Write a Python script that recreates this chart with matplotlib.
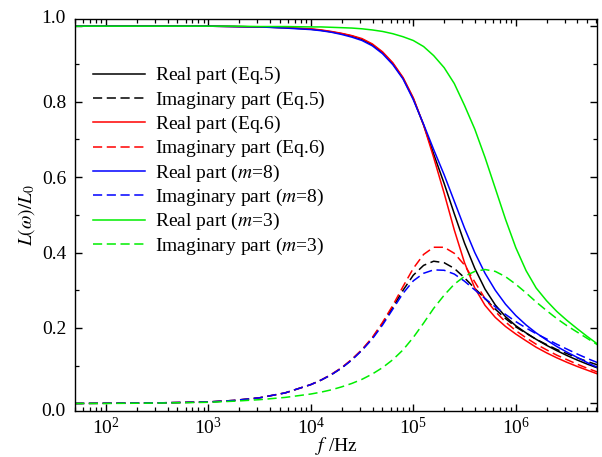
import matplotlib
matplotlib.use("Agg")
import matplotlib.pyplot as plt
import matplotlib.ticker as mticker
import numpy as np

plt.rcParams['font.family'] = ['Liberation Serif', 'DejaVu Serif']
plt.rcParams['mathtext.fontset'] = 'stix'

# Frequencies (Hz)
freq_hz = [5.01e1, 1.0e2, 3.16e2, 1.0e3, 1.78e3, 3.16e3, 5.62e3,
           1.0e4, 1.26e4, 1.58e4, 2.0e4, 2.51e4, 3.16e4, 3.98e4, 5.01e4, 6.31e4, 7.94e4,
           1.0e5, 1.26e5, 1.58e5, 2.0e5, 2.51e5, 3.16e5, 3.98e5, 5.01e5, 6.31e5, 7.94e5,
           1.0e6, 1.26e6, 1.58e6, 2.0e6, 2.51e6, 3.16e6, 3.98e6, 5.01e6, 6.31e6]

real_eq5 = [1.0, 1.0, 1.0, 1.0, 0.999, 0.998, 0.996,
            0.992, 0.989, 0.985, 0.980, 0.974, 0.965, 0.951, 0.930, 0.901, 0.862,
            0.808, 0.738, 0.661, 0.583, 0.503, 0.425, 0.358, 0.303, 0.261, 0.230,
            0.206, 0.187, 0.170, 0.154, 0.140, 0.127, 0.115, 0.104, 0.094]
imag_eq5 = [0.0, 0.0005, 0.0015, 0.004, 0.008, 0.015, 0.028,
            0.050, 0.062, 0.076, 0.094, 0.116, 0.142, 0.173, 0.212, 0.255, 0.300,
            0.340, 0.366, 0.377, 0.373, 0.358, 0.333, 0.305, 0.278, 0.250, 0.225,
            0.203, 0.186, 0.170, 0.156, 0.143, 0.132, 0.121, 0.111, 0.102]
real_eq6 = [1.0, 1.0, 1.0, 1.0, 0.999, 0.998, 0.996,
            0.993, 0.990, 0.986, 0.981, 0.975, 0.967, 0.953, 0.932, 0.903, 0.864,
            0.810, 0.738, 0.652, 0.557, 0.460, 0.373, 0.306, 0.260, 0.228, 0.204,
            0.184, 0.166, 0.149, 0.134, 0.121, 0.109, 0.098, 0.088, 0.078]
imag_eq6 = [0.0, 0.0005, 0.0015, 0.004, 0.008, 0.015, 0.028,
            0.050, 0.062, 0.077, 0.095, 0.117, 0.143, 0.175, 0.215, 0.260, 0.310,
            0.358, 0.395, 0.414, 0.414, 0.398, 0.367, 0.322, 0.278, 0.244, 0.216,
            0.193, 0.174, 0.157, 0.142, 0.128, 0.116, 0.104, 0.093, 0.083]
real_m8 = [1.0, 1.0, 1.0, 1.0, 0.999, 0.998, 0.995,
           0.991, 0.988, 0.984, 0.978, 0.971, 0.962, 0.948, 0.927, 0.898, 0.860,
           0.805, 0.740, 0.673, 0.606, 0.536, 0.465, 0.400, 0.345, 0.300, 0.263,
           0.233, 0.208, 0.187, 0.168, 0.151, 0.136, 0.122, 0.108, 0.095]
imag_m8 = [0.0, 0.0005, 0.0015, 0.004, 0.008, 0.015, 0.028,
           0.050, 0.062, 0.076, 0.094, 0.115, 0.141, 0.171, 0.208, 0.250, 0.292,
           0.325, 0.345, 0.354, 0.353, 0.343, 0.324, 0.301, 0.278, 0.256, 0.236,
           0.217, 0.200, 0.185, 0.171, 0.157, 0.144, 0.131, 0.119, 0.108]
real_m3 = [1.0, 1.0, 1.0, 1.0, 1.0, 0.999, 0.999,
           0.998, 0.998, 0.997, 0.996, 0.995, 0.993, 0.990, 0.986, 0.980, 0.972,
           0.962, 0.946, 0.922, 0.890, 0.848, 0.790, 0.727, 0.652, 0.570, 0.488,
           0.413, 0.352, 0.306, 0.272, 0.244, 0.220, 0.198, 0.177, 0.157]
imag_m3 = [0.0, 0.0, 0.001, 0.003, 0.006, 0.010, 0.016,
           0.025, 0.030, 0.036, 0.044, 0.053, 0.064, 0.078, 0.095, 0.116, 0.142,
           0.175, 0.213, 0.252, 0.287, 0.316, 0.337, 0.350, 0.355, 0.350, 0.336,
           0.316, 0.293, 0.269, 0.246, 0.225, 0.206, 0.189, 0.172, 0.155]

labels = [r"Real part (Eq.$\mathdefault{5}$)", r"Imaginary part (Eq.$\mathdefault{5}$)",
          r"Real part (Eq.$\mathdefault{6}$)", r"Imaginary part (Eq.$\mathdefault{6}$)",
          r"Real part ($m$=8)", r"Imaginary part ($m$=8)",
          r"Real part ($m$=3)", r"Imaginary part ($m$=3)"]

fig = plt.figure(figsize=(6.02, 4.57), dpi=100)
ax = fig.add_axes([75/602, 46/457, 522/602, 392/457])

dash = (0, (6, 3))
lw = 1.1
series = [(real_eq5, 'black', '-'), (imag_eq5, 'black', dash),
          (real_eq6, '#ff0000', '-'), (imag_eq6, '#ff0000', dash),
          (real_m8, '#0000ff', '-'), (imag_m8, '#0000ff', dash),
          (real_m3, '#00ee00', '-'), (imag_m3, '#00ee00', dash)]
for (vals, col, ls), lab in zip(series, labels):
    ax.plot(freq_hz, vals, color=col, linestyle=ls, lw=lw, label=lab)

ax.set_xscale('log')
ax.set_xlim(50, 6.2e6)
ax.set_ylim(-0.02, 1.019)

ax.xaxis.set_major_locator(mticker.LogLocator(base=10, numticks=20))
ax.xaxis.set_minor_locator(mticker.LogLocator(base=10, subs=np.arange(2, 10), numticks=100))
ax.xaxis.set_minor_formatter(mticker.NullFormatter())

yt = [0.0, 0.2, 0.4, 0.6, 0.8, 1.0]
ax.set_yticks(yt)
ax.set_yticklabels(['', '0.2', '0.4', '0.6', '0.8', ''])
ax.yaxis.set_minor_locator(mticker.MultipleLocator(0.1))
ax.text(-0.018, 0.0, '0.0', transform=ax.transAxes, ha='right', va='center', fontsize=14)
ax.text(-0.018, 1.0, '1.0', transform=ax.transAxes, ha='right', va='center', fontsize=14)

ax.tick_params(which='both', direction='in', top=True, right=True, labelsize=14)
ax.tick_params(which='major', length=5, width=1.0)
ax.tick_params(which='minor', length=3, width=0.9)
ax.tick_params(axis='y', pad=6)
ax.tick_params(axis='x', pad=4)
for s in ax.spines.values():
    s.set_linewidth(1.0)

ax.set_xlabel('$f$ /Hz', fontsize=14, labelpad=-2)
ax.set_ylabel('$L(\\omega)/L_0$', fontsize=14, labelpad=4)

ax.legend(loc='upper left', bbox_to_anchor=(0.034, 0.882), frameon=False,
          fontsize=14, handlelength=2.7, handletextpad=0.5, labelspacing=0.165,
          borderpad=0, borderaxespad=0)

fig.savefig('out.png', dpi=100)
